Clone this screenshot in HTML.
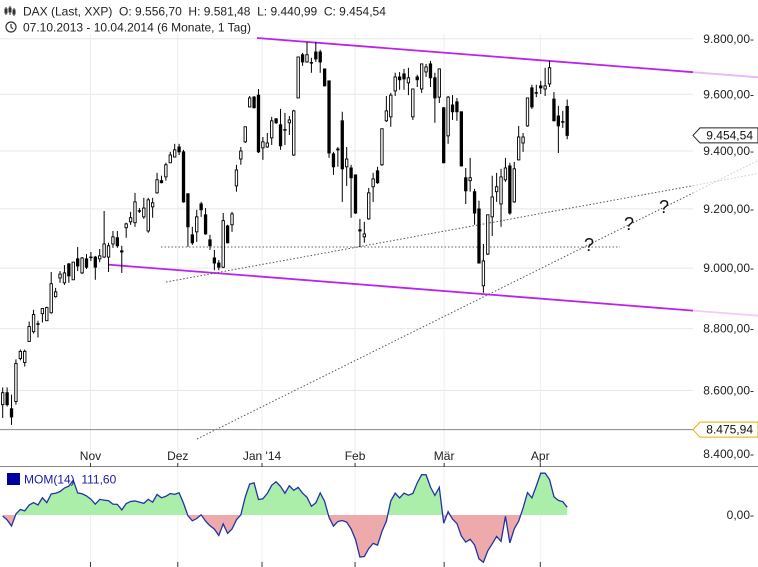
<!DOCTYPE html>
<html><head><meta charset="utf-8"><style>
html,body{margin:0;padding:0;background:#fff;}
svg{display:block;font-family:"Liberation Sans",sans-serif;}
</style></head><body>
<svg id="chart" width="758" height="567" viewBox="0 0 758 567" xmlns="http://www.w3.org/2000/svg">
<g id="grid"></g>
<g id="annot"></g>
<g id="candles"></g>
<g id="axes"></g>
<g id="mom"></g>
<g>
  <g stroke="#333" stroke-width="1" fill="none">
    <line x1="6" y1="7" x2="6" y2="15"/><rect x="5" y="9" width="2" height="4"/>
    <line x1="10" y1="6" x2="10" y2="15"/><rect x="9" y="8" width="2" height="4"/>
    <line x1="14" y1="8" x2="14" y2="16"/><rect x="13" y="10" width="2" height="4" fill="#333"/>
  </g>
  <text x="23" y="15.5" font-size="12" fill="#222" style="white-space:pre">DAX (Last, XXP)  O: 9.556,70  H: 9.581,48  L: 9.440,99  C: 9.454,54</text>
  <g fill="none" stroke="#333" stroke-width="1.2">
    <circle cx="11" cy="27" r="5"/><polyline points="11,24 11,27 13,29"/>
  </g>
  <text x="23" y="31.5" font-size="12" fill="#222" style="white-space:pre">07.10.2013 - 10.04.2014 (6 Monate, 1 Tag)</text>
</g>
</svg>
<script>
const opens=[8555,8593,8542,8565,8703,8690,8758,8790,8816,8849,8826,8852,8905,8967,8951,9014,8961,9031,8984,9031,9037,9037,9031,9037,9037,9081,9102,9058,9136,9156,9153,9193,9173,9125,9207,9255,9297,9310,9359,9379,9414,9397,9252,9112,9122,9217,9180,9095,9034,9017,9003,9142,9146,9279,9372,9432,9555,9590,9597,9411,9414,9446,9513,9492,9474,9499,9386,9587,9742,9716,9713,9752,9752,9691,9648,9390,9407,9506,9345,9341,9317,9129,9105,9166,9276,9331,9352,9506,9520,9612,9662,9673,9641,9520,9662,9619,9680,9709,9659,9590,9552,9453,9562,9573,9538,9307,9297,9259,9200,8941,9047,9173,9259,9217,9300,9348,9224,9369,9428,9488,9623,9605,9630,9619,9637,9583,9523,9502,9556.70];
const highs=[8610,8610,8587,8700,8732,8732,8823,8862,8826,8866,8872,8987,8934,8990,9010,9017,9020,9071,9037,9047,9054,9041,9064,9193,9085,9125,9125,9075,9153,9190,9255,9203,9238,9238,9238,9324,9314,9359,9397,9425,9425,9404,9252,9139,9197,9224,9203,9112,9061,9027,9186,9146,9190,9352,9414,9485,9594,9594,9619,9449,9463,9520,9516,9548,9534,9523,9545,9734,9749,9788,9731,9788,9760,9691,9648,9397,9414,9538,9414,9352,9317,9166,9156,9272,9324,9345,9478,9594,9605,9677,9680,9691,9695,9619,9670,9709,9709,9720,9677,9691,9555,9594,9597,9587,9538,9341,9376,9269,9228,9081,9180,9314,9324,9338,9376,9359,9362,9488,9463,9587,9634,9634,9648,9695,9720,9608,9559,9541,9581.48];
const lows=[8513,8549,8491,8555,8697,8677,8758,8784,8771,8820,8826,8849,8902,8951,8944,8951,8961,8990,8980,8997,9024,8961,9020,9034,8987,9068,9068,8984,9102,9146,9139,9186,9166,9119,9170,9252,9288,9297,9359,9379,9386,9221,9071,9078,9088,9173,9112,9061,8993,8993,9000,9083,9122,9259,9352,9428,9555,9550,9393,9369,9411,9421,9495,9404,9421,9456,9383,9587,9702,9713,9677,9716,9677,9628,9376,9317,9345,9224,9279,9170,9183,9071,9085,9163,9224,9286,9348,9502,9485,9594,9616,9616,9597,9509,9626,9605,9662,9626,9499,9569,9357,9425,9509,9506,9346,9217,9259,9146,9015,8918,9044,9108,9224,9139,9293,9180,9221,9367,9397,9485,9548,9590,9601,9594,9626,9504,9393,9481,9440.99];
const closes=[8593,8555,8516,8687,8726,8726,8807,8846,8815,8866,8869,8948,8921,8980,8984,8974,9020,9007,9034,9003,9036,9003,9041,9081,9075,9105,9075,9054,9149,9170,9224,9194,9203,9231,9221,9300,9290,9352,9386,9404,9397,9224,9139,9085,9173,9197,9115,9075,9017,9003,9160,9085,9183,9334,9400,9485,9587,9552,9397,9432,9428,9506,9499,9418,9475,9509,9541,9734,9716,9742,9714,9727,9716,9630,9393,9345,9404,9338,9372,9307,9186,9125,9115,9255,9303,9290,9478,9541,9597,9662,9652,9655,9659,9619,9652,9709,9698,9659,9587,9691,9359,9590,9538,9538,9348,9262,9307,9186,9017,9024,9180,9241,9276,9310,9341,9186,9338,9449,9449,9587,9555,9606,9623,9630,9695,9506,9488,9503,9454.54];
const momStart=[-15,-70,-160,15,80,60,145,180,145,250,180,305,315,340];
const yTicks=[9800,9600,9400,9200,9000,8800,8600,8400];
const yTickLabels=["9.800,00","9.600,00","9.400,00","9.200,00","9.000,00","8.800,00","8.600,00","8.400,00"];
const monthIdx=[19.9,39.7,58.8,79.9,100.1,121.9];
const monthLabels=["Nov","Dez","Jan '14","Feb","Mär","Apr"];

const NS="http://www.w3.org/2000/svg";
function mk(tag,attrs,parent){const e=document.createElementNS(NS,tag);for(const k in attrs)e.setAttribute(k,attrs[k]);parent.appendChild(e);return e;}
const xS=i=>2.7+i*4.41;
const yS=v=>94.3-2693*Math.log(v/9600);
const momZero=515, momK=0.069;
const yM=m=>momZero-m*momK;

const grid=document.getElementById('grid');
yTicks.forEach((v,i)=>{
  if(v>8450){const l=mk('line',{x1:0,x2:693,y1:yS(v),y2:yS(v),stroke:'#e8e8e8','stroke-width':1},grid);
  
  }
});
monthIdx.forEach((m,i)=>{
  const l=mk('line',{x1:xS(m),x2:xS(m),y1:34,y2:466,stroke:'#ececec','stroke-width':1},grid);
  
  
  const l2=mk('line',{x1:xS(m),x2:xS(m),y1:468,y2:567,stroke:'#f0f0f0','stroke-width':1},grid);
  
  
});

const an=document.getElementById('annot');
function ln(x1,y1,x2,y2,st,w,dash,name){const l=mk('line',{x1,y1,x2,y2,stroke:st,'stroke-width':w},an);if(dash)l.setAttribute('stroke-dasharray',dash);

return l;}
ln(257,38,693,72.2,'#bb22ee',1.8,null,'upper-channel-line');
ln(693,72.2,758,77.3,'#e8b8f8',1.8,null,'upper-channel-extension');
ln(108,264.6,693,310.6,'#bb22ee',1.8,null,'lower-channel-line');
ln(693,310.6,758,315.7,'#f0ccfa',1.8,null,'lower-channel-extension');
ln(161,247,620,247,'#666',1,'1.5,2','support-dotted-line');
ln(166,282,693,185.7,'#555',1,'1.5,2','rising-dotted-line');
ln(693,185.7,758,173.5,'#ccc',1,'1.5,2','rising-dotted-extension');
ln(197,439,693,193,'#555',1,'1.5,2','steep-dotted-line');
ln(693,193,758,160.5,'#ccc',1,'1.5,2','steep-dotted-extension');
[[589,251],[629,230],[664,213]].forEach(p=>{const t=mk('text',{x:p[0],y:p[1],'font-size':18,'text-anchor':'middle',fill:'#111'},an);t.textContent='?';

});
const ll=mk('line',{x1:0,x2:693,y1:yS(8475.94),y2:yS(8475.94),stroke:'#888','stroke-width':1},an);



const cg=document.getElementById('candles');
opens.forEach((o,i)=>{
  const c=closes[i],x=xS(i);
  const g=mk('g',{},cg);
  
  
  mk('line',{x1:x,x2:x,y1:yS(highs[i]),y2:yS(lows[i]),stroke:'#000','stroke-width':1},g);
  const top=yS(Math.max(o,c)),bot=yS(Math.min(o,c));
  const up=c>=o;
  mk('rect',{x:x-1.2,y:top,width:2.4,height:Math.max(bot-top,0.6),fill:up?'#fff':'#000',stroke:'#000','stroke-width':0.9},g);
});

const ax=document.getElementById('axes');
mk('line',{x1:0,x2:758,y1:466.5,y2:466.5,stroke:'#888','stroke-width':1},ax);
yTicks.forEach((v,i)=>{
  const t=mk('text',{x:754,y:yS(v)+4,'font-size':12,'text-anchor':'end',fill:'#222'},ax);
  t.textContent=yTickLabels[i]+'-';
  
  
});
monthIdx.forEach((m,i)=>{
  const t=mk('text',{x:xS(m),y:460,'font-size':12,'text-anchor':'middle',fill:'#222'},ax);
  t.textContent=monthLabels[i];
  
  
  mk('line',{x1:xS(m),x2:xS(m),y1:463,y2:467,stroke:'#333'},ax);
  mk('line',{x1:xS(m),x2:xS(m),y1:562,y2:567,stroke:'#333'},ax);
});
function tag(y,label,col,name){
  const g=mk('g',{},ax);
  
  
  mk('path',{d:`M693 ${y} L700 ${y-7.5} L758 ${y-7.5} L758 ${y+7.5} L700 ${y+7.5} Z`,fill:'#fff',stroke:col,'stroke-width':1},g);
  const t=mk('text',{x:753,y:y+4,'font-size':12,'text-anchor':'end',fill:'#111'},g);t.textContent=label;
}
tag(yS(closes[closes.length-1]),'9.454,54','#222','last-price-tag');
tag(yS(8475.94),'8.475,94','#e0b000','low-price-tag');

const mg=document.getElementById('mom');
const mom=closes.map((c,i)=>i<14?momStart[i]:c-closes[i-14]);
const defs=mk('defs',{},mg);
const cpA=mk('clipPath',{id:'above'},defs);mk('rect',{x:0,y:467,width:758,height:momZero-467},cpA);
const cpB=mk('clipPath',{id:'below'},defs);mk('rect',{x:0,y:momZero,width:758,height:567-momZero},cpB);
let d=`M${xS(0)} ${momZero}`;mom.forEach((m,i)=>d+=` L${xS(i)} ${yM(m)}`);d+=` L${xS(mom.length-1)} ${momZero} Z`;
const pa=mk('path',{d,fill:'#aaeeaa','clip-path':'url(#above)'},mg);


const pb=mk('path',{d,fill:'#eeaaaa','clip-path':'url(#below)'},mg);


let dl='';mom.forEach((m,i)=>dl+=(i?' L':'M')+xS(i)+' '+yM(m));
const pl=mk('path',{d:dl,fill:'none',stroke:'#2233aa','stroke-width':1.3},mg);


const zt=mk('text',{x:754,y:momZero+4,'font-size':12,'text-anchor':'end',fill:'#222'},mg);zt.textContent='0,00-';


const lg=mk('g',{},mg);


mk('rect',{x:7,y:473,width:13,height:12,fill:'#0000a0'},lg);
const lt=mk('text',{x:24,y:483.5,'font-size':12,fill:'#1a1aaa',style:'white-space:pre'},lg);lt.textContent='MOM(14)  111,60';
</script>
</body></html>
